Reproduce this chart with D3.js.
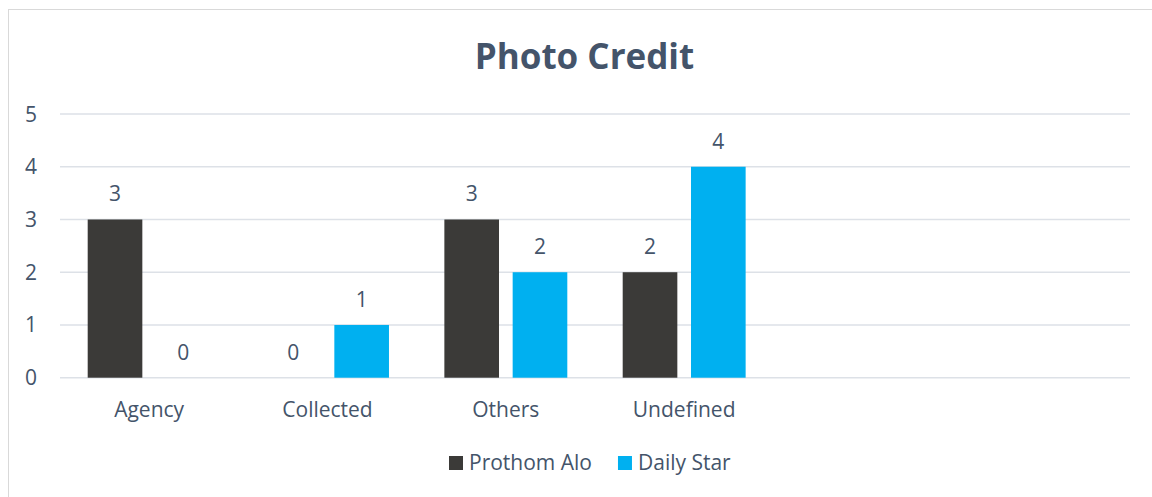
<!DOCTYPE html>
<html>
<head>
<meta charset="utf-8">
<script src="https://cdn.jsdelivr.net/npm/d3@7/dist/d3.min.js"></script>
<style>
  html, body { margin: 0; padding: 0; background: #fff; }
  svg { display: block; }
  text { font-family: "Open Sans", sans-serif; fill: #44546A; }
</style>
</head>
<body>
<svg id="chart" width="1152" height="497"></svg>
<script>
const title = "Photo Credit";
const categories = ["Agency", "Collected", "Others", "Undefined"];
const emptySlots = 2;
const seriesNames = ["Prothom Alo", "Daily Star"];
const prothomAlo = [3, 0, 3, 2];
const dailyStar = [0, 1, 2, 4];
const yTicks = [0, 1, 2, 3, 4, 5];
const colors = ["#3B3A38", "#00B0F0"];

const seriesValues = [prothomAlo, dailyStar];
const svg = d3.select("#chart");
const W = 1152, H = 497;

// outer border
svg.append("rect").attr("x", 8.5).attr("y", 9.5).attr("width", W).attr("height", H)
  .attr("fill", "#fff").attr("stroke", "#D9D9D9").attr("stroke-width", 1);

const plot = { left: 60, right: 1130, top: 114, bottom: 377.7 };
const slots = d3.range(categories.length + emptySlots);
const x = d3.scaleBand().domain(slots).range([plot.left, plot.right]).paddingInner(0).paddingOuter(0);
const bw = x.bandwidth();
const inset = bw * 0.1553;
const xSub = d3.scaleBand().domain(d3.range(seriesNames.length)).range([inset, bw - inset]).paddingInner(0.2).paddingOuter(0);
const y = d3.scaleLinear().domain([0, 5]).range([plot.bottom, plot.top]);

// gridlines
svg.append("g").selectAll("line").data(yTicks).join("line")
  .attr("x1", plot.left).attr("x2", plot.right)
  .attr("y1", d => y(d)).attr("y2", d => y(d))
  .attr("stroke", "#DDE1E7").attr("stroke-width", 1.5);

// y tick labels
svg.append("g").selectAll("text").data(yTicks).join("text")
  .attr("x", 37).attr("y", d => y(d) + 7.5)
  .attr("text-anchor", "end").attr("font-size", 21)
  .text(d => d);

// bars
const rows = [];
categories.forEach((c, i) => seriesValues.forEach((vals, s) => rows.push({ i, s, v: vals[i] })));
const g = svg.append("g");
g.selectAll("rect").data(rows).join("rect")
  .attr("x", d => x(d.i) + xSub(d.s))
  .attr("y", d => y(d.v))
  .attr("width", xSub.bandwidth())
  .attr("height", d => y(0) - y(d.v))
  .attr("fill", d => colors[d.s]);

// value labels
g.selectAll("text").data(rows).join("text")
  .attr("x", d => x(d.i) + xSub(d.s) + xSub.bandwidth() / 2)
  .attr("y", d => y(d.v) - 18)
  .attr("text-anchor", "middle").attr("font-size", 21)
  .text(d => d.v);

// category labels
svg.append("g").selectAll("text").data(categories).join("text")
  .attr("x", (d, i) => x(i) + bw / 2)
  .attr("y", plot.bottom + 39)
  .attr("text-anchor", "middle").attr("font-size", 21)
  .text(d => d);

// title
svg.append("text").attr("x", 584.5).attr("y", 69)
  .attr("text-anchor", "middle").attr("font-size", 35).attr("font-weight", "bold")
  .text(title);

// legend
const legend = svg.append("g");
let lx = 449;
seriesNames.forEach((name, s) => {
  legend.append("rect").attr("x", lx).attr("y", 456).attr("width", 14).attr("height", 14).attr("fill", colors[s]);
  const t = legend.append("text").attr("x", lx + 20).attr("y", 470).attr("font-size", 21).text(name);
  lx = lx + 20 + t.node().getComputedTextLength() + 26;
});
</script>
</body>
</html>
